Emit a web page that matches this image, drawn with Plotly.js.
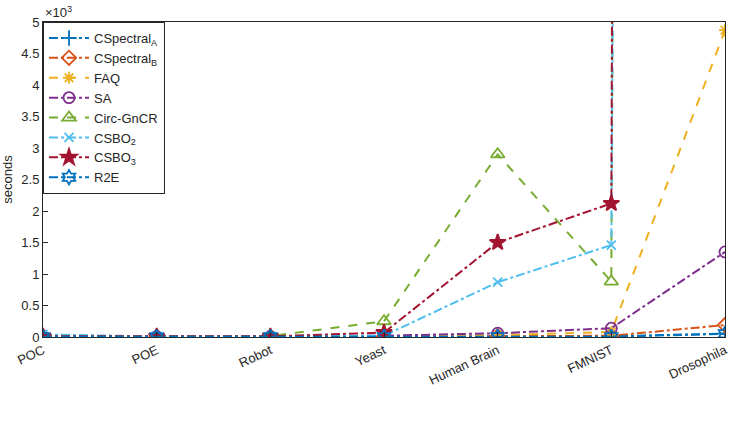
<!DOCTYPE html>
<html>
<head>
<script src="https://cdn.plot.ly/plotly-3.0.1.min.js"></script>
<style>body{margin:0;background:#fff}</style>
</head>
<body>
<div id="chart" style="width:732px;height:437px"></div>
<script>
const datasets = ['POC', 'POE', 'Robot', 'Yeast', 'Human Brain', 'FMNIST', 'Drosophila']

const cspectralA = [5, 4, 5, 6, 8, 10, 55]
const cspectralB = [6, 5, 6, 8, 12, 20, 190]
const faq = [3, 3, 4, 10, 30, 80, 4870]
const sa = [8, 6, 8, 20, 60, 140, 1350]
const circGnCR = [20, 10, 15, 250, 2900, 880, 400000]
const csbo2 = [40, 10, 10, 20, 870, 1460, 300000]
const csbo3 = [10, 8, 10, 70, 1500, 2120, 500000]
const r2e = [2, 2, 2, 3, 4, 5, 50]

const series = [
    {name: 'CSpectral<sub>A</sub>', y: cspectralA, color: '#0072BD', symbol: 'cross-thin-open', dash: 'dashdot', size: 11},
    {name: 'CSpectral<sub>B</sub>', y: cspectralB, color: '#D95319', symbol: 'diamond-open', dash: 'dashdot', size: 11},
    {name: 'FAQ', y: faq, color: '#EDB120', symbol: 'asterisk-open', dash: 'dash', size: 10},
    {name: 'SA', y: sa, color: '#7E2F8E', symbol: 'circle-open', dash: 'dashdot', size: 11},
    {name: 'Circ-GnCR', y: circGnCR, color: '#77AC30', symbol: 'triangle-up-open', dash: 'dash', size: 12},
    {name: 'CSBO<sub>2</sub>', y: csbo2, color: '#4DBEEE', symbol: 'x-thin-open', dash: 'dashdot', size: 9},
    {name: 'CSBO<sub>3</sub>', y: csbo3, color: '#A2142F', symbol: 'star', dash: 'dashdot', size: 12},
    {name: 'R2E', y: r2e, color: '#0072BD', symbol: 'hexagram-open', dash: 'dashdot', size: 11}
]

const data = series.map(s => ({
    x: datasets,
    y: s.y,
    name: s.name,
    type: 'scatter',
    mode: 'lines+markers',
    line: {color: s.color, width: 2, dash: s.dash},
    marker: {symbol: s.symbol, size: s.size, color: s.color, line: {color: s.color, width: 1.8}}
}))

const yTicks = [0, 500, 1000, 1500, 2000, 2500, 3000, 3500, 4000, 4500, 5000]
const yLabels = ['0', '0.5', '1', '1.5', '2', '2.5', '3', '3.5', '4', '4.5', '5']

const layout = {
    font: {family: 'Liberation Sans, Arial', size: 13, color: '#262626'},
    margin: {l: 43, r: 7, t: 22, b: 100},
    showlegend: true,
    legend: {
        x: 0, y: 1, xanchor: 'left', yanchor: 'top',
        bgcolor: 'white', bordercolor: '#262626', borderwidth: 1,
        font: {size: 13}, tracegroupgap: 0, itemwidth: 40
    },
    xaxis: {
        type: 'category', range: [0, 6], tickangle: -25,
        showgrid: false, zeroline: false, showline: true, mirror: true,
        linecolor: '#262626', ticks: 'inside', ticklen: 5, tickcolor: '#262626',
        tickfont: {size: 13}
    },
    yaxis: {
        title: {text: 'seconds', font: {size: 13}, standoff: 8},
        range: [0, 5000], tickvals: yTicks, ticktext: yLabels,
        showgrid: false, zeroline: false, showline: true, mirror: true,
        linecolor: '#262626', ticks: 'inside', ticklen: 5, tickcolor: '#262626'
    },
    annotations: [{
        xref: 'paper', yref: 'paper', x: 0, y: 1, xanchor: 'left', yanchor: 'bottom',
        text: '×10<sup>3</sup>', showarrow: false, font: {size: 13}
    }],
    paper_bgcolor: 'white',
    plot_bgcolor: 'white'
}

Plotly.newPlot(document.getElementById('chart'), data, layout, {displayModeBar: false})
</script>
</body>
</html>
